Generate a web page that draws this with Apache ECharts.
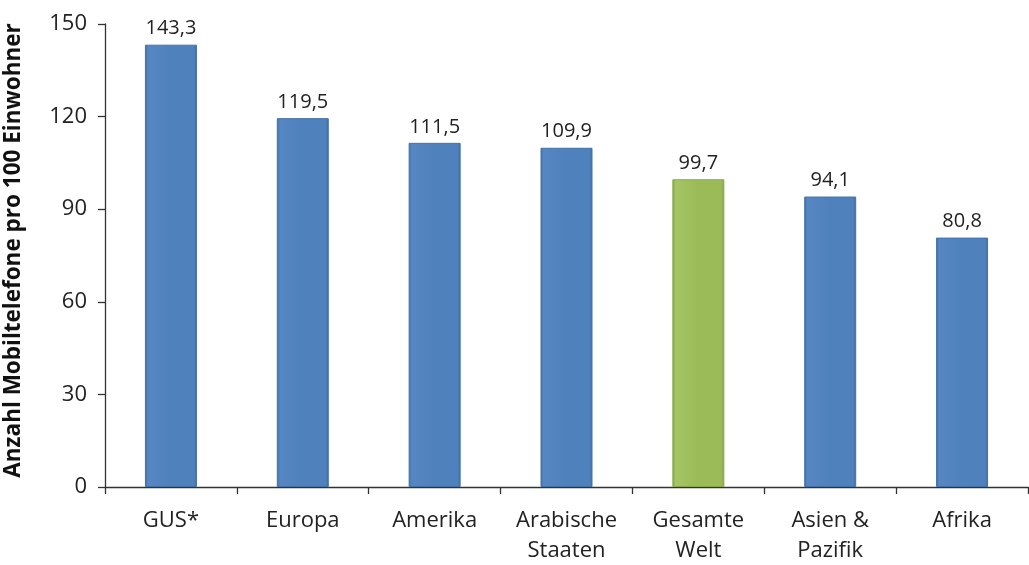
<!DOCTYPE html>
<html>
<head>
<meta charset="utf-8">
<script src="https://cdn.jsdelivr.net/npm/echarts@6/dist/echarts.min.js"></script>
<style>html,body{margin:0;padding:0;background:#fff}#c{width:1029px;height:565px}</style>
</head>
<body>
<div id="c"></div>
<script>
var categories = ['GUS*', 'Europa', 'Amerika', 'Arabische\nStaaten', 'Gesamte\nWelt', 'Asien &\nPazifik', 'Afrika'];
var values = [143.3, 119.5, 111.5, 109.9, 99.7, 94.1, 80.8];
var highlightIndex = 4;
var yTicks = [0, 30, 60, 90, 120, 150];
var axisName = 'Anzahl Mobiltelefone pro 100 Einwohner';

var FONT = '"Open Sans", "Liberation Sans", sans-serif';
function grad(light, mid, dark) {
  return new echarts.graphic.LinearGradient(0, 0, 1, 0, [
    {offset: 0, color: dark},
    {offset: 0.06, color: light},
    {offset: 0.5, color: mid},
    {offset: 0.94, color: mid},
    {offset: 1, color: dark}
  ]);
}
var blue = grad('#5787c3', '#4f81bd', '#3f6ca3');
var green = grad('#a5c463', '#9bbb59', '#84a146');

var chart = echarts.init(document.getElementById('c'), null, {renderer: 'canvas'});
chart.setOption({
  animation: false,
  grid: {left: 105, right: 1, top: 24, bottom: 78, containLabel: false, outerBoundsMode: 'none'},
  xAxis: {
    type: 'category',
    data: categories,
    axisLine: {lineStyle: {color: '#333', width: 1.3}},
    axisTick: {show: true, alignWithLabel: false, length: 7, lineStyle: {color: '#333', width: 1.3}},
    axisLabel: {color: '#222', fontSize: 22, fontFamily: FONT, margin: 19, lineHeight: 30, interval: 0}
  },
  yAxis: {
    type: 'value',
    min: yTicks[0],
    max: yTicks[yTicks.length - 1],
    interval: 30,
    name: axisName,
    nameLocation: 'middle',
    nameGap: 80,
    nameTextStyle: {color: '#111', fontSize: 22.5, fontWeight: 'bold', fontFamily: FONT, padding: [0, 0, 0, 10]},
    splitLine: {show: false},
    axisLine: {show: true, lineStyle: {color: '#333', width: 1.3}},
    axisTick: {show: true, length: 7, lineStyle: {color: '#333', width: 1.3}},
    axisLabel: {color: '#222', fontSize: 22, fontFamily: FONT, margin: 18}
  },
  series: [{
    type: 'bar',
    barWidth: 52,
    data: values.map(function (v, i) {
      return {
        value: v,
        itemStyle: {
          color: i === highlightIndex ? green : blue,
          borderColor: i === highlightIndex ? '#8aa84a' : '#4472a8',
          borderWidth: 1
        }
      };
    }),
    label: {
      show: true,
      position: 'top',
      distance: 6,
      color: '#222',
      fontSize: 20,
      fontFamily: FONT,
      formatter: function (p) { return p.value.toFixed(1).replace('.', ','); }
    }
  }]
});
</script>
</body>
</html>
